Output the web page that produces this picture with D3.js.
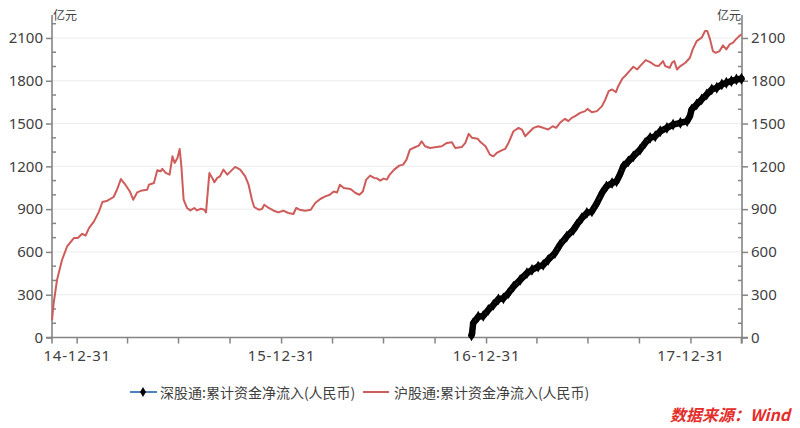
<!DOCTYPE html>
<html><head><meta charset="utf-8">
<script src="https://cdn.jsdelivr.net/npm/d3@7"></script>
<style>
body{margin:0;background:#fff;}
svg{display:block;}
text{font-family:"Noto Sans","Noto Sans CJK SC",sans-serif;}
</style></head>
<body><svg id="c" width="800" height="428"></svg>
<script>
const shDates = ["2014-11-17","2014-11-20","2014-11-26","2014-12-05","2014-12-14","2014-12-26","2015-01-02","2015-01-10","2015-01-16","2015-01-22","2015-01-31","2015-02-09","2015-02-15","2015-02-24","2015-03-07","2015-03-13","2015-03-20","2015-03-28","2015-04-05","2015-04-11","2015-04-18","2015-04-27","2015-05-06","2015-05-09","2015-05-18","2015-05-24","2015-05-30","2015-06-02","2015-06-08","2015-06-15","2015-06-20","2015-06-24","2015-06-29","2015-07-03","2015-07-06","2015-07-10","2015-07-16","2015-07-22","2015-07-29","2015-08-03","2015-08-10","2015-08-16","2015-08-19","2015-08-25","2015-08-30","2015-09-03","2015-09-08","2015-09-13","2015-09-19","2015-09-26","2015-10-10","2015-10-19","2015-10-28","2015-11-03","2015-11-09","2015-11-13","2015-11-21","2015-11-27","2015-12-01","2015-12-09","2015-12-18","2015-12-26","2016-01-04","2016-01-13","2016-01-22","2016-01-27","2016-02-02","2016-02-12","2016-02-22","2016-03-01","2016-03-10","2016-03-19","2016-03-27","2016-04-03","2016-04-09","2016-04-14","2016-04-21","2016-05-03","2016-05-12","2016-05-19","2016-05-25","2016-05-31","2016-06-07","2016-06-14","2016-06-20","2016-06-25","2016-07-01","2016-07-07","2016-07-12","2016-07-20","2016-07-29","2016-08-05","2016-08-11","2016-08-17","2016-08-26","2016-09-02","2016-09-07","2016-09-13","2016-09-22","2016-10-04","2016-10-13","2016-10-22","2016-10-31","2016-11-06","2016-11-18","2016-11-24","2016-11-30","2016-12-06","2016-12-16","2016-12-21","2016-12-30","2017-01-07","2017-01-13","2017-01-19","2017-01-28","2017-02-03","2017-02-09","2017-02-18","2017-02-27","2017-03-05","2017-03-11","2017-03-17","2017-03-26","2017-04-03","2017-04-12","2017-04-21","2017-04-29","2017-05-05","2017-05-12","2017-05-21","2017-05-27","2017-06-02","2017-06-08","2017-06-17","2017-06-26","2017-06-30","2017-07-08","2017-07-17","2017-07-26","2017-08-01","2017-08-07","2017-08-13","2017-08-20","2017-08-24","2017-08-31","2017-09-06","2017-09-13","2017-09-20","2017-09-27","2017-10-02","2017-10-12","2017-10-20","2017-10-29","2017-11-04","2017-11-12","2017-11-16","2017-11-24","2017-11-28","2017-12-02","2017-12-07","2017-12-13","2017-12-22","2017-12-30","2018-01-04","2018-01-11","2018-01-20","2018-01-26","2018-01-30","2018-02-04","2018-02-09","2018-02-14","2018-02-21","2018-02-27","2018-03-05","2018-03-11","2018-03-17","2018-03-22","2018-03-28","2018-04-01"];
const shValues = [120,242,404,545,638,697,697,727,715,767,814,884,950,959,985,1036,1111,1071,1024,966,1017,1031,1036,1071,1083,1172,1165,1182,1154,1142,1270,1224,1259,1322,1200,966,908,891,908,891,903,896,877,1154,1119,1088,1119,1130,1177,1142,1196,1177,1130,1071,966,915,896,901,931,908,889,877,889,873,866,908,896,889,896,943,971,989,1001,1024,1017,1071,1048,1041,1013,1001,1024,1107,1135,1119,1114,1100,1114,1107,1142,1177,1205,1212,1247,1317,1334,1345,1376,1341,1329,1336,1341,1364,1369,1329,1336,1364,1428,1400,1394,1370,1341,1282,1270,1294,1312,1322,1364,1446,1470,1458,1411,1435,1470,1481,1470,1458,1481,1470,1505,1533,1517,1540,1552,1575,1587,1603,1579,1587,1622,1669,1727,1739,1720,1762,1813,1837,1867,1898,1879,1903,1945,1931,1907,1903,1938,1903,1891,1926,1938,1879,1903,1926,1961,2020,2078,2102,2149,2149,2090,2008,1996,2008,2048,2020,2055,2067,2090,2113,2125];

const szDates = ["2016-12-05","2016-12-06","2016-12-08","2016-12-17","2016-12-26","2017-01-04","2017-01-13","2017-01-22","2017-01-31","2017-02-09","2017-02-18","2017-03-02","2017-03-14","2017-03-23","2017-04-03","2017-04-12","2017-04-21","2017-05-03","2017-05-12","2017-05-24","2017-06-05","2017-06-11","2017-06-20","2017-06-29","2017-07-08","2017-07-17","2017-07-26","2017-08-03","2017-08-13","2017-08-21","2017-08-27","2017-09-02","2017-09-11","2017-09-20","2017-10-02","2017-10-11","2017-10-20","2017-10-29","2017-11-07","2017-11-19","2017-11-30","2017-12-13","2017-12-25","2017-12-30","2018-01-02","2018-01-11","2018-01-20","2018-01-29","2018-02-07","2018-02-16","2018-02-25","2018-03-05","2018-03-14","2018-03-23","2018-04-01"];
const szValues = [15,29,100,146,151,193,228,268,275,311,357,404,451,474,497,509,545,592,650,708,755,790,837,873,884,943,1013,1059,1083,1095,1142,1200,1235,1270,1317,1364,1400,1411,1446,1470,1493,1505,1517,1552,1598,1634,1669,1704,1739,1751,1774,1786,1797,1809,1814];

const seriesNames = ["深股通:累计资金净流入(人民币)","沪股通:累计资金净流入(人民币)"];
const yMajorTicks = [0,300,600,900,1200,1500,1800,2100];
const yMinorTicks = [100,200,400,500,700,800,1000,1100,1300,1400,1600,1700,1900,2000,2200];
const xTickDates = ["2014-12-31","2015-03-31","2015-06-30","2015-09-30","2015-12-31","2016-03-31","2016-06-30","2016-09-30","2016-12-31","2017-03-31","2017-06-30","2017-09-30","2017-12-31","2018-03-31"];
const xLabelDates = ["2014-12-31","2015-12-31","2016-12-31","2017-12-31"];
const unitLabel = "亿元";
const sourceLabel = "数据来源：Wind";

const parse = d3.timeParse("%Y-%m-%d");
const fmt = d3.timeFormat("%y-%m-%d");
const sh = shDates.map((d,i)=>({date:parse(d), v:shValues[i]}));
const sz = szDates.map((d,i)=>({date:parse(d), v:szValues[i]}));

const L = 52, R = 742, B = 337.5, T = 15;
const x = d3.scaleTime().domain([parse("2014-11-17"), parse("2018-04-02")]).range([L, R]);
const y = d3.scaleLinear().domain([0, 2261]).range([B, T]);

const svg = d3.select("#c");
const axisColor = "#858585";
const textColor = "#404040";

// gridlines
svg.append("g").selectAll("line").data(yMajorTicks.filter(d=>d>0)).join("line")
  .attr("x1", L).attr("x2", R).attr("y1", d=>y(d)).attr("y2", d=>y(d))
  .attr("stroke", "#ececec").attr("stroke-width", 1);

// left axis
const gl = svg.append("g").attr("transform", `translate(${L},0)`);
gl.call(d3.axisLeft(y).tickValues(yMajorTicks).tickSize(6).tickFormat(d3.format("d")).tickPadding(3));
gl.append("g").selectAll("line").data(yMinorTicks).join("line")
  .attr("x1",0).attr("x2",4).attr("y1",d=>y(d)).attr("y2",d=>y(d)).attr("stroke",axisColor).attr("stroke-width",1.5);
// right axis
const gr = svg.append("g").attr("transform", `translate(${R},0)`);
gr.call(d3.axisRight(y).tickValues(yMajorTicks).tickSize(6).tickFormat(d3.format("d")).tickPadding(3));
gr.append("g").selectAll("line").data(yMinorTicks).join("line")
  .attr("x1",0).attr("x2",-4).attr("y1",d=>y(d)).attr("y2",d=>y(d)).attr("stroke",axisColor).attr("stroke-width",1.5);
// bottom axis
const gb = svg.append("g").attr("transform", `translate(0,${B})`);
gb.call(d3.axisBottom(x).tickValues(xTickDates.map(parse)).tickSize(6)
  .tickFormat(d => xLabelDates.includes(d3.timeFormat("%Y-%m-%d")(d)) ? fmt(d) : "").tickPadding(4));

[gl,gr,gb].forEach(g=>{
  g.select(".domain").attr("stroke",axisColor).attr("stroke-width",1.6);
  g.selectAll(".tick line").attr("stroke",axisColor).attr("stroke-width",1.5);
  g.selectAll(".tick text").attr("fill",textColor).style("font-size","15px").style("font-family","'Noto Sans',sans-serif");
});
gb.selectAll(".tick text").style("letter-spacing","0.8px").attr("dy","0.9em");
gl.select(".domain").attr("d", `M-6,${B}H0V${T}`);
gr.select(".domain").attr("d", `M6,${B}H0V${T}`);
gb.select(".domain").attr("d", `M${L},6V0H${R}V6`);

// unit labels
svg.append("text").attr("x", L+1).attr("y", 20).text(unitLabel)
  .attr("fill",textColor).style("font-size","12px").style("font-family","'Noto Sans CJK SC',sans-serif");
svg.append("text").attr("x", R-1).attr("y", 20).attr("text-anchor","end").text(unitLabel)
  .attr("fill",textColor).style("font-size","12px").style("font-family","'Noto Sans CJK SC',sans-serif");

// lines
const line = d3.line().x(d=>x(d.date)).y(d=>y(d.v)).curve(d3.curveLinear);
svg.append("path").datum(sh).attr("d", line).attr("fill","none")
  .attr("stroke","#cd5c5a").attr("stroke-width",2).attr("stroke-linejoin","round");
svg.append("path").datum(sz).attr("d", line).attr("fill","none")
  .attr("stroke","#000").attr("stroke-width",6.5).attr("stroke-linejoin","round").attr("stroke-linecap","round");
svg.append("path").datum(sz).attr("d", line).attr("fill","none")
  .attr("stroke","#4a78b8").attr("stroke-width",0.8).attr("opacity",0.5);
svg.append("g").selectAll("path").data(sz).join("path")
  .attr("transform", d=>`translate(${x(d.date)},${y(d.v)})`)
  .attr("d", d3.symbol(d3.symbolDiamond, 40)()).attr("fill","#000");

// legend
const lg = svg.append("g");
lg.append("line").attr("x1",130).attr("x2",157).attr("y1",392).attr("y2",392).attr("stroke","#4f81bd").attr("stroke-width",2);
lg.append("path").attr("transform","translate(143,392)").attr("d", d3.symbol(d3.symbolDiamond, 30)()).attr("fill","#000");
lg.append("text").attr("x",160).attr("y",397.5).text(seriesNames[0]).attr("fill",textColor)
  .style("font-size","14px").style("font-family","'Noto Sans CJK SC',sans-serif");
lg.append("line").attr("x1",363).attr("x2",389).attr("y1",392).attr("y2",392).attr("stroke","#cd5c5a").attr("stroke-width",2);
lg.append("text").attr("x",394).attr("y",397.5).text(seriesNames[1]).attr("fill",textColor)
  .style("font-size","14px").style("font-family","'Noto Sans CJK SC',sans-serif");

// source
svg.append("text").attr("x",790).attr("y",421).attr("text-anchor","end").text(sourceLabel)
  .attr("fill","#e52d2a").style("font-size","16px").style("font-style","italic").style("font-weight","bold")
  .style("font-family","'Noto Sans CJK SC',sans-serif");
</script></body></html>
